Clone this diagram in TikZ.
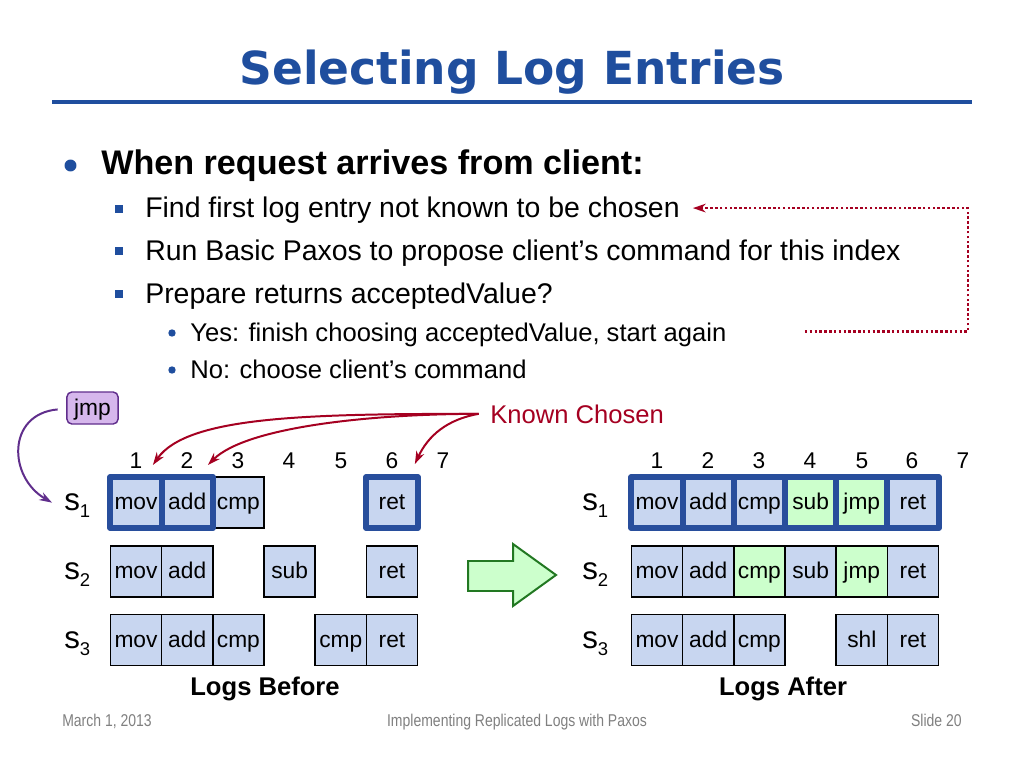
\documentclass[tikz,border=0pt]{standalone}
\usepackage{fontspec}
\setmainfont{Liberation Sans}
\newfontfamily\titlefont{DejaVu Sans}
\newfontfamily\footfont[FakeStretch=0.82]{Liberation Sans}
\usepackage{xcolor}
\usetikzlibrary{arrows.meta}

\definecolor{titleblue}{RGB}{31,78,158}
\definecolor{cellblue}{RGB}{200,214,240}
\definecolor{edgeblue}{RGB}{40,78,156}
\definecolor{newgreen}{RGB}{204,255,204}
\definecolor{arrowgreen}{RGB}{34,120,34}
\definecolor{chosenred}{RGB}{165,0,33}
\definecolor{jmppurple}{RGB}{214,183,236}
\definecolor{darkpurple}{RGB}{96,46,140}
\definecolor{footgray}{RGB}{128,128,128}

\begin{document}
\begin{tikzpicture}[x=0.703125pt,y=-0.703125pt,
  txt/.style={anchor=base west,inner sep=0},
  cell/.style={draw=black,line width=1pt,fill=cellblue,minimum width=36pt,minimum height=36pt,
    inner sep=0,font=\fontsize{16}{18}\selectfont,text height=11.5pt,text depth=1pt},
  chosen/.style={draw=edgeblue,line width=4.2pt,line join=round},
  newcell/.style={fill=newgreen},
  num/.style={anchor=base,inner sep=0,font=\fontsize{16}{18}\selectfont},
  srv/.style={anchor=base west,inner sep=0,font=\fontsize{22}{24}\selectfont},
  known arrow/.style={draw=chosenred,line width=1.4pt,-{Stealth[length=9pt,width=6pt]}}]
\fill[white] (0,0) rectangle (1024,768);
\useasboundingbox (0,0) rectangle (1024,768);

% title
\node [anchor=base,inner sep=0,text=titleblue,font=\titlefont\bfseries\fontsize{32}{36}\selectfont] (title) at (512,85) {Selecting Log Entries};
\draw [titleblue,line width=3.5pt] (52,102) -- (972,102);

% bullets
\fill [titleblue] (70.5,165.5) circle (4.2pt);
\node [txt,font=\bfseries\fontsize{24}{28}\selectfont] (l1) at (101,175) {When request arrives from client:};
\fill [titleblue] (115,205) rectangle (123,213);
\node [txt,font=\fontsize{20}{24}\selectfont] (l2a) at (145,218) {Find first log entry not known to be chosen};
\fill [titleblue] (115,247) rectangle (123,255);
\node [txt,font=\fontsize{20}{24}\selectfont] (l2b) at (145,261) {Run Basic Paxos to propose client’s command for this index};
\fill [titleblue] (115,290) rectangle (123,298);
\node [txt,font=\fontsize{20}{24}\selectfont] (l2c) at (145,304) {Prepare returns acceptedValue?};
\fill [titleblue] (172,333) circle (2.6pt);
\node [txt,font=\fontsize{18}{22}\selectfont] (l3a) at (190,341) {Yes: finish choosing acceptedValue, start again};
\fill [titleblue] (172,370) circle (2.6pt);
\node [txt,font=\fontsize{18}{22}\selectfont] (l3b) at (190,378) {No: choose client’s command};

\draw [draw=chosenred,line width=1.8pt,dash pattern=on 1.8pt off 1.6pt,-{Stealth[length=9pt,width=6pt]}]
  ([xshift=55pt,yshift=2pt]l3a.east) -- ++(163,0) |- ([xshift=9pt,yshift=1.8pt]l2a.east);

% logs before
\node [num] (bn1) at (136,468) {1};
\node [num] (bn2) at (187,468) {2};
\node [num] (bn3) at (238,468) {3};
\node [num] (bn4) at (289,468) {4};
\node [num] (bn5) at (341,468) {5};
\node [num] (bn6) at (392,468) {6};
\node [num] (bn7) at (443,468) {7};

\node [srv] (bs1) at (64,510) {s\raisebox{-5.5pt}{\fontsize{13}{14}\selectfont 1}};
\node [srv] (bs2) at (64,579) {s\raisebox{-5.5pt}{\fontsize{13}{14}\selectfont 2}};
\node [srv] (bs3) at (64,648) {s\raisebox{-5.5pt}{\fontsize{13}{14}\selectfont 3}};

\node [cell] (b13) at (238.4,502.5) {cmp};
\node [cell,chosen] (b11) at (136,502.5) {mov};
\node [cell,chosen] (b12) at (187.2,502.5) {add};
\node [cell,chosen] (b16) at (392,502.5) {ret};

\node [cell] (b21) at (136,571.5) {mov};
\node [cell] (b22) at (187.2,571.5) {add};
\node [cell] (b24) at (289.6,571.5) {sub};
\node [cell] (b26) at (392,571.5) {ret};

\node [cell] (b31) at (136,640) {mov};
\node [cell] (b32) at (187.2,640) {add};
\node [cell] (b33) at (238.4,640) {cmp};
\node [cell] (b35) at (340.8,640) {cmp};
\node [cell] (b36) at (392,640) {ret};

\node [anchor=base,inner sep=0,font=\bfseries\fontsize{18}{20}\selectfont] (before) at (265,695) {Logs Before};

% known chosen
\node [txt,text=chosenred,font=\fontsize{18}{20}\selectfont] (known) at (490,423) {Known Chosen};
\draw [known arrow] ([xshift=-8pt]known.west) to[out=180,in=55,out distance=120pt,in distance=42pt] ([xshift=-8.2pt,yshift=6.3pt]b11.north east);
\draw [known arrow] ([xshift=-8pt]known.west) to[out=180,in=45,out distance=75pt,in distance=38pt] ([xshift=-5.5pt,yshift=6.3pt]b12.north east);
\draw [known arrow] ([xshift=-8pt]known.west) to[out=190,in=65] ([xshift=-4pt,yshift=7pt]b16.north east);

% jmp
\node [draw=darkpurple,line width=1pt,fill=jmppurple,rounded corners=3.5pt,minimum width=36pt,minimum height=22.5pt,
  inner sep=0,font=\fontsize{16}{18}\selectfont,text height=11.5pt,text depth=1pt] (jmp) at (92.5,408) {jmp};
\draw [draw=darkpurple,line width=1.4pt,-{Stealth[length=9pt,width=6pt]}]
  ([xshift=-6pt,yshift=-1pt]jmp.west) to[out=185,in=150,looseness=1.4] ([xshift=-8.4pt,yshift=2pt]bs1.west);

% green arrow
\draw [draw=arrowgreen,fill=newgreen,line width=1.4pt,line join=miter]
  (468,561) -- (513,561) -- (513,544) -- (556,575) -- (513,606) -- (513,591) -- (468,591) -- cycle;

% logs after
\node [num] (an1) at (657,468) {1};
\node [num] (an2) at (708,468) {2};
\node [num] (an3) at (759,468) {3};
\node [num] (an4) at (810,468) {4};
\node [num] (an5) at (862,468) {5};
\node [num] (an6) at (912,468) {6};
\node [num] (an7) at (963,468) {7};

\node [srv] (as1) at (582,510) {s\raisebox{-5.5pt}{\fontsize{13}{14}\selectfont 1}};
\node [srv] (as2) at (582,579) {s\raisebox{-5.5pt}{\fontsize{13}{14}\selectfont 2}};
\node [srv] (as3) at (582,648) {s\raisebox{-5.5pt}{\fontsize{13}{14}\selectfont 3}};

\node [cell,chosen] (a11) at (657,502.5) {mov};
\node [cell,chosen] (a12) at (708.2,502.5) {add};
\node [cell,chosen] (a13) at (759.4,502.5) {cmp};
\node [cell,chosen,newcell] (a14) at (810.6,502.5) {sub};
\node [cell,chosen,newcell] (a15) at (861.8,502.5) {jmp};
\node [cell,chosen] (a16) at (913,502.5) {ret};

\node [cell] (a21) at (657,571.5) {mov};
\node [cell] (a22) at (708.2,571.5) {add};
\node [cell,newcell] (a23) at (759.4,571.5) {cmp};
\node [cell] (a24) at (810.6,571.5) {sub};
\node [cell,newcell] (a25) at (861.8,571.5) {jmp};
\node [cell] (a26) at (913,571.5) {ret};

\node [cell] (a31) at (657,640) {mov};
\node [cell] (a32) at (708.2,640) {add};
\node [cell] (a33) at (759.4,640) {cmp};
\node [cell] (a35) at (861.8,640) {shl};
\node [cell] (a36) at (913,640) {ret};

\node [anchor=base,inner sep=0,font=\bfseries\fontsize{18}{20}\selectfont] (after) at (783,695) {Logs After};

% footer
\node [txt,text=footgray,font=\footfont\fontsize{12}{14}\selectfont] (date) at (62,726) {March 1, 2013};
\node [anchor=base,inner sep=0,text=footgray,font=\footfont\fontsize{12}{14}\selectfont] (talk) at (517,726) {Implementing Replicated Logs with Paxos};
\node [anchor=base east,inner sep=0,text=footgray,font=\footfont\fontsize{12}{14}\selectfont] (slide) at (962,726) {Slide 20};
\end{tikzpicture}
\end{document}
